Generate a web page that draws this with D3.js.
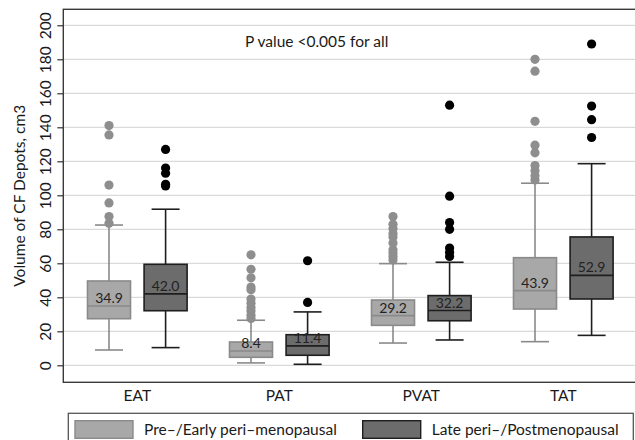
<html>
<head>
    <title>CF depots by menopausal status</title>
    <script src="https://d3js.org/d3.v7.min.js"></script>
    <style>
        body { margin: 0; background: #fff; }
        text { font-family: Lato, "Open Sans", sans-serif; fill: #1a1a1a; }
    </style>
</head>
<body>
    <div id="chart"></div>
    <script>
        // categories and groups
        var cats = ['EAT', 'PAT', 'PVAT', 'TAT'];
        var groups = ['Pre\u2013/Early peri\u2013menopausal', 'Late peri\u2013/Postmenopausal'];

        // box stats, one value per category
        var preMed = [34.9, 8.4, 29.2, 43.9];
        var preQ1 = [27.4, 4.7, 23.5, 33.1];
        var preQ3 = [49.6, 13.7, 38.4, 63.3];
        var preLo = [9.0, 1.4, 13.1, 13.9];
        var preHi = [82.5, 26.5, 59.8, 107.1];
        var preOut = [
            [141, 135.5, 106, 95.5, 87.5, 83.5],
            [65, 56.5, 51.5, 46, 44.5, 39, 36.5, 34, 32, 29.5, 27.5],
            [87.5, 83, 80.5, 77.5, 75.5, 72, 68, 66, 64, 62],
            [180, 173, 143.5, 129.5, 125, 117.5, 114.5, 111.5, 109]
        ];

        var postMed = [42.0, 11.4, 32.2, 52.9];
        var postQ1 = [32.1, 5.9, 26.2, 39.0];
        var postQ3 = [59.4, 18.0, 41.0, 75.5];
        var postLo = [10.4, 0.6, 14.9, 17.6];
        var postHi = [91.8, 31.4, 60.6, 118.6];
        var postOut = [
            [127, 116, 113, 106.5, 105.5],
            [61.5, 37],
            [153, 99.5, 84, 80, 69, 66.5, 64],
            [189, 152.5, 144.5, 134]
        ];

        var yTicks = [0, 20, 40, 60, 80, 100, 120, 140, 160, 180, 200];
        var note = 'P value <0.005 for all';
        var yTitle = 'Volume of CF Depots, cm3';

        var W = 635, H = 440;
        var padL = 63.3, padT = 9.3, padB = 382.3;

        // fill, stroke, dot colour for each group
        var style = [
            { fill: '#a8a8a8', stroke: '#8a8a8a', dot: '#8e8e8e', med: '#8a8a8a' },
            { fill: '#6c6c6c', stroke: '#1e1e1e', dot: '#000000', med: '#1e1e1e' }
        ];

        var svg = d3.select('#chart').append('svg')
            .attr('width', W)
            .attr('height', H);

        svg.append('rect').attr('width', W).attr('height', H).style('fill', '#fff');

        var y = d3.scaleLinear().domain([-10, 209.4]).range([padB, padT]);
        var x = d3.scaleBand().domain(cats).range([66.3, 634.3]);
        var xSub = d3.scaleBand().domain(groups).range([-49.8, 49.8]).paddingInner(0.24);
        var bw = xSub.bandwidth();

        // gridlines
        svg.append('g').selectAll('line')
            .data(yTicks)
            .enter().append('line')
            .attr('x1', padL).attr('x2', W)
            .attr('y1', function (d) { return y(d); })
            .attr('y2', function (d) { return y(d); })
            .style('stroke', '#dadada')
            .style('stroke-width', 1.2);

        // y axis (ticks + rotated labels)
        var yAxis = d3.axisLeft(y).tickValues(yTicks).tickSize(6).tickPadding(0);
        var gy = svg.append('g').attr('transform', 'translate(' + padL + ',0)').call(yAxis);
        gy.select('.domain').remove();
        gy.selectAll('.tick line').style('stroke', '#333').style('stroke-width', 1.2);
        gy.selectAll('.tick text')
            .attr('x', 0).attr('dy', null)
            .attr('transform', 'translate(-12,0) rotate(-90)')
            .attr('text-anchor', 'middle')
            .style('font-size', '15.5px')
            .style('font-family', 'Lato, sans-serif')
            .style('fill', '#1a1a1a');

        svg.append('text')
            .attr('transform', 'translate(25,' + ((padT + padB) / 2) + ') rotate(-90)')
            .attr('text-anchor', 'middle')
            .style('font-size', '15.5px')
            .text(yTitle);

        // frame
        svg.append('rect')
            .attr('x', padL).attr('y', padT)
            .attr('width', 700).attr('height', padB - padT)
            .style('fill', 'none')
            .style('stroke', '#3a3a3a')
            .style('stroke-width', 1.4);

        // x labels
        var xAxis = d3.axisBottom(x).tickSize(0).tickPadding(0);
        var gx = svg.append('g').attr('transform', 'translate(0,' + padB + ')').call(xAxis);
        gx.select('.domain').remove();
        gx.selectAll('.tick text')
            .attr('y', 18.4).attr('dy', null)
            .style('font-size', '15.5px')
            .style('font-family', 'Lato, sans-serif')
            .style('fill', '#1a1a1a');

        svg.append('text')
            .attr('x', 245).attr('y', 46.7)
            .style('font-size', '15.5px')
            .text(note);

        // build one record per box
        var boxes = [];
        cats.forEach(function (c, i) {
            boxes.push({ cat: c, g: 0, med: preMed[i], q1: preQ1[i], q3: preQ3[i], lo: preLo[i], hi: preHi[i], out: preOut[i] });
            boxes.push({ cat: c, g: 1, med: postMed[i], q1: postQ1[i], q3: postQ3[i], lo: postLo[i], hi: postHi[i], out: postOut[i] });
        });

        function cx(d) {
            return x(d.cat) + x.bandwidth() / 2 + xSub(groups[d.g]) + bw / 2;
        }

        var b = svg.append('g').selectAll('g')
            .data(boxes)
            .enter().append('g');

        // whisker stems
        b.append('line')
            .attr('x1', cx).attr('x2', cx)
            .attr('y1', function (d) { return y(d.q3); })
            .attr('y2', function (d) { return y(d.hi); })
            .style('stroke', function (d) { return style[d.g].stroke; })
            .style('stroke-width', 1.6);
        b.append('line')
            .attr('x1', cx).attr('x2', cx)
            .attr('y1', function (d) { return y(d.q1); })
            .attr('y2', function (d) { return y(d.lo); })
            .style('stroke', function (d) { return style[d.g].stroke; })
            .style('stroke-width', 1.6);

        // caps
        ['hi', 'lo'].forEach(function (k) {
            b.append('line')
                .attr('x1', function (d) { return cx(d) - 14; })
                .attr('x2', function (d) { return cx(d) + 14; })
                .attr('y1', function (d) { return y(d[k]); })
                .attr('y2', function (d) { return y(d[k]); })
                .style('stroke', function (d) { return style[d.g].stroke; })
                .style('stroke-width', 1.6);
        });

        // outliers
        b.each(function (d) {
            d3.select(this).selectAll('circle')
                .data(d.out)
                .enter().append('circle')
                .attr('cx', cx(d))
                .attr('cy', function (v) { return y(v); })
                .attr('r', 4.6)
                .style('fill', style[d.g].dot);
        });

        // boxes
        b.append('rect')
            .attr('x', function (d) { return cx(d) - bw / 2; })
            .attr('y', function (d) { return y(d.q3); })
            .attr('width', bw)
            .attr('height', function (d) { return y(d.q1) - y(d.q3); })
            .style('fill', function (d) { return style[d.g].fill; })
            .style('stroke', function (d) { return style[d.g].stroke; })
            .style('stroke-width', 1.6);

        // median lines
        b.append('line')
            .attr('x1', function (d) { return cx(d) - bw / 2; })
            .attr('x2', function (d) { return cx(d) + bw / 2; })
            .attr('y1', function (d) { return y(d.med); })
            .attr('y2', function (d) { return y(d.med); })
            .style('stroke', function (d) { return style[d.g].med; })
            .style('stroke-width', 1.6);

        // median labels
        b.append('text')
            .attr('x', cx)
            .attr('y', function (d) { return y(d.med) - 3; })
            .attr('text-anchor', 'middle')
            .style('font-size', '14px')
            .style('fill', '#222')
            .text(function (d) { return d.med.toFixed(1); });

        // legend
        var lg = svg.append('g');
        lg.append('rect')
            .attr('x', 68.3).attr('y', 413.3)
            .attr('width', 565).attr('height', 40)
            .style('fill', '#fff')
            .style('stroke', '#555')
            .style('stroke-width', 1.3);
        var lx = [75, 362.7];
        groups.forEach(function (g, i) {
            lg.append('rect')
                .attr('x', lx[i]).attr('y', 420.7)
                .attr('width', 58).attr('height', 17.6)
                .style('fill', style[i].fill)
                .style('stroke', style[i].stroke)
                .style('stroke-width', 1.4);
            lg.append('text')
                .attr('x', lx[i] + 69).attr('y', 434.5)
                .style('font-size', '15.5px')
                .text(g);
        });
    </script>
</body>
</html>
